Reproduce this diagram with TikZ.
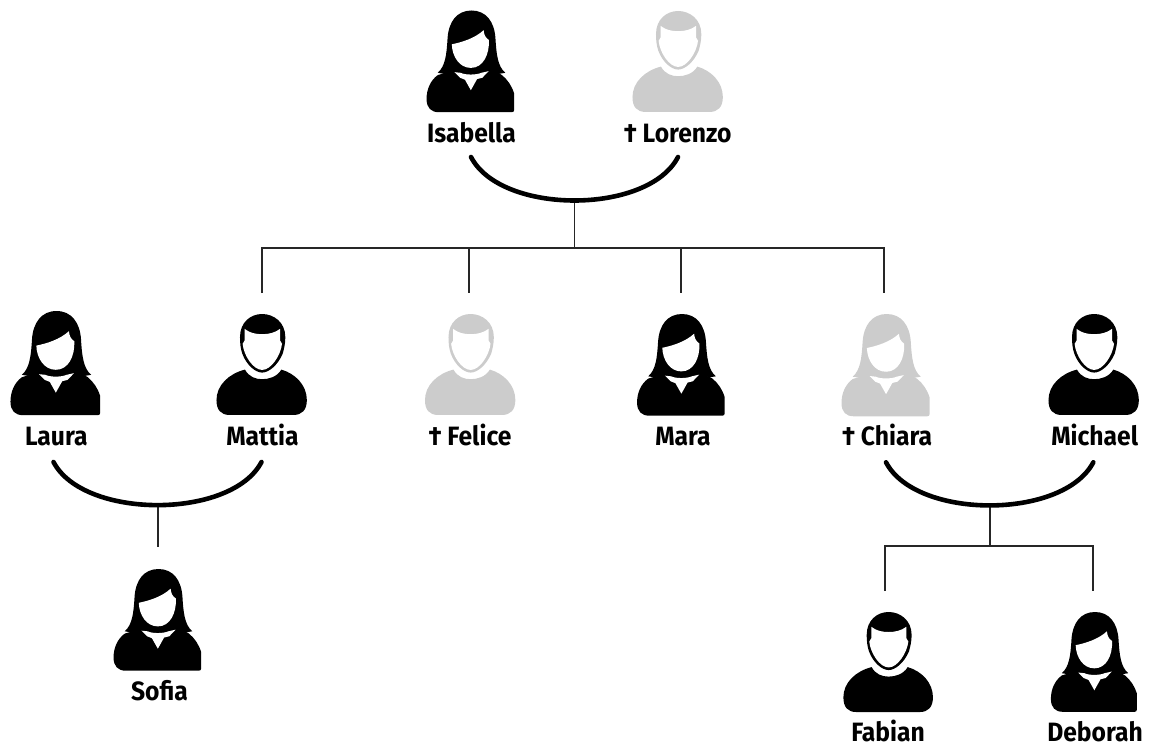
\documentclass[tikz,border=0pt]{standalone}
\usepackage{fontspec}
\setmainfont{Fira Sans}[BoldFont={Fira Sans Bold},BoldFeatures={FakeStretch=0.93}]
\definecolor{ghost}{HTML}{CCCCCC}
\tikzset{
  x=1pt,y=-1pt,
  namelabel/.style={anchor=base,inner sep=0pt,font=\fontsize{26.5}{28}\selectfont\bfseries,text=black},
  unionarc/.style={line width=4.6pt,line cap=round,draw=black},
  kinline/.style={line width=1.2pt,draw=black!85},
}
% #1 colour, #2 centre x, #3 top y, #4 scale
\newcommand{\manicon}[4]{%
\begin{scope}[shift={(#2,#3)},scale=#4,shift={(-168,-25)}]
 \fill[#1] (118,193) .. controls (130,215) and (150,222) .. (170,222)
   .. controls (190,222) and (215,215) .. (228,193)
   .. controls (270,205) and (305,240) .. (305,285)
   .. controls (305,315) and (290,330) .. (265,330) -- (72,330)
   .. controls (45,330) and (32,315) .. (32,285)
   .. controls (32,240) and (70,205) .. (118,193) -- cycle;
 \fill[#1] (103,95) .. controls (103,50) and (135,25) .. (170,25)
   .. controls (205,25) and (240,50) .. (240,95)
   .. controls (240,115) and (236,130) .. (232,145)
   .. controls (217,180) and (190,202) .. (170,202)
   .. controls (150,202) and (123,180) .. (110,145)
   .. controls (105,130) and (103,115) .. (103,95) -- cycle;
 \fill[white] (117,70) .. controls (132,82) and (150,86) .. (169,86)
   .. controls (190,86) and (208,82) .. (224,70) -- (224,105) -- (230,115)
   .. controls (226,150) and (197,194) .. (170,194)
   .. controls (143,194) and (114,150) .. (111,115) -- (117,105) -- cycle;
\end{scope}}
\newcommand{\womanicon}[4]{%
\begin{scope}[shift={(#2,#3)},scale=#4,shift={(-155,-15)}]
 \fill[#1] (52,212) .. controls (30,228) and (18,255) .. (18,285)
   .. controls (18,312) and (32,325) .. (55,325) -- (278,325)
   .. controls (283,325) and (285,322) .. (285,318) -- (285,268)
   .. controls (278,245) and (265,226) .. (248,212)
   -- (238,206) -- (205,198) -- (105,198) -- (72,206) -- cycle;
 \fill[#1] (155,15) .. controls (200,15) and (225,50) .. (228,100)
   .. controls (231,150) and (235,185) .. (258,205)
   -- (240,208) -- (205,200) -- (155,215) -- (105,200) -- (70,208) -- (52,205)
   .. controls (75,185) and (79,150) .. (82,100)
   .. controls (85,50) and (110,15) .. (155,15) -- cycle;
 \fill[white] (95,118) .. controls (125,112) and (165,100) .. (192,75)
   .. controls (193,88) and (197,98) .. (208,105)
   .. controls (210,150) and (190,190) .. (153,190)
   .. controls (118,190) and (96,155) .. (95,118) -- cycle;
 \fill[white] (103,203) -- (122,205) .. controls (135,212) and (170,212) .. (185,205)
   -- (207,200) -- (188,220) -- (172,224) -- (153,258) -- (135,226) -- (120,220) -- cycle;
\end{scope}}
\begin{document}
\begin{tikzpicture}
\useasboundingbox (0,0) rectangle (1151,746);
% icons
\womanicon{black}{471.5}{10.5}{0.328}
\manicon{ghost}{677.5}{11}{0.331}
\womanicon{black}{56.5}{311}{0.336}
\manicon{black}{261.5}{314}{0.331}
\manicon{ghost}{470}{314}{0.331}
\womanicon{black}{682}{314}{0.328}
\womanicon{ghost}{886.7}{314}{0.330}
\manicon{black}{1093.5}{314}{0.331}
\womanicon{black}{158.5}{569}{0.328}
\manicon{black}{888}{612}{0.328}
\womanicon{black}{1095}{612}{0.322}
% labels
\node[namelabel] (isabella) at (471.5,143) {Isabella};
\node[namelabel] (lorenzo) at (677.7,143) {† Lorenzo};
\node[namelabel] (laura) at (56.3,445.5) {Laura};
\node[namelabel] (mattia) at (262.5,445.5) {Mattia};
\node[namelabel] (felice) at (470,445.5) {† Felice};
\node[namelabel] (mara) at (683,445.5) {Mara};
\node[namelabel] (chiara) at (887,445.5) {† Chiara};
\node[namelabel] (michael) at (1094.7,445.5) {Michael};
\node[namelabel] (sofia) at (159.5,700.5) {Sofia};
\node[namelabel] (fabian) at (888,741) {Fabian};
\node[namelabel] (deborah) at (1095,741) {Deborah};
% connector ends
\coordinate (ua) at (471,157); \coordinate (ub) at (678,157);
\coordinate (ulo) at (574.5,200); \coordinate (uj) at (574.5,248);
\coordinate (h1) at (262,248); \coordinate (h2) at (469,248);
\coordinate (h3) at (681,248); \coordinate (h4) at (884,248);
\coordinate (d1) at (262,293); \coordinate (d2) at (469,293);
\coordinate (d3) at (681,293); \coordinate (d4) at (884,293);
\coordinate (la) at (53.5,462); \coordinate (lb) at (261.5,462);
\coordinate (llo) at (158,505); \coordinate (ld) at (158,546.5);
\coordinate (ca) at (886,462.3); \coordinate (cb) at (1093.3,462.3);
\coordinate (clo) at (990,505); \coordinate (cj) at (990,546);
\coordinate (k1) at (885,546); \coordinate (k2) at (1093,546);
\coordinate (e1) at (885,591); \coordinate (e2) at (1093,591);
% family lines
\draw[kinline] (ulo) -- (uj);
\draw[kinline] (d1) -- (h1) -- (h4) -- (d4);
\draw[kinline] (h2) -- (d2);
\draw[kinline] (h3) -- (d3);
\draw[kinline] (llo) -- (ld);
\draw[kinline] (clo) -- (cj);
\draw[kinline] (e1) -- (k1) -- (k2) -- (e2);
\draw[unionarc] (ua) .. controls +(30,58) and +(-30,58) .. (ub);
\draw[unionarc] (la) .. controls +(30,57.5) and +(-30,57.5) .. (lb);
\draw[unionarc] (ca) .. controls +(30,57.5) and +(-30,57.5) .. (cb);
\end{tikzpicture}
\end{document}
